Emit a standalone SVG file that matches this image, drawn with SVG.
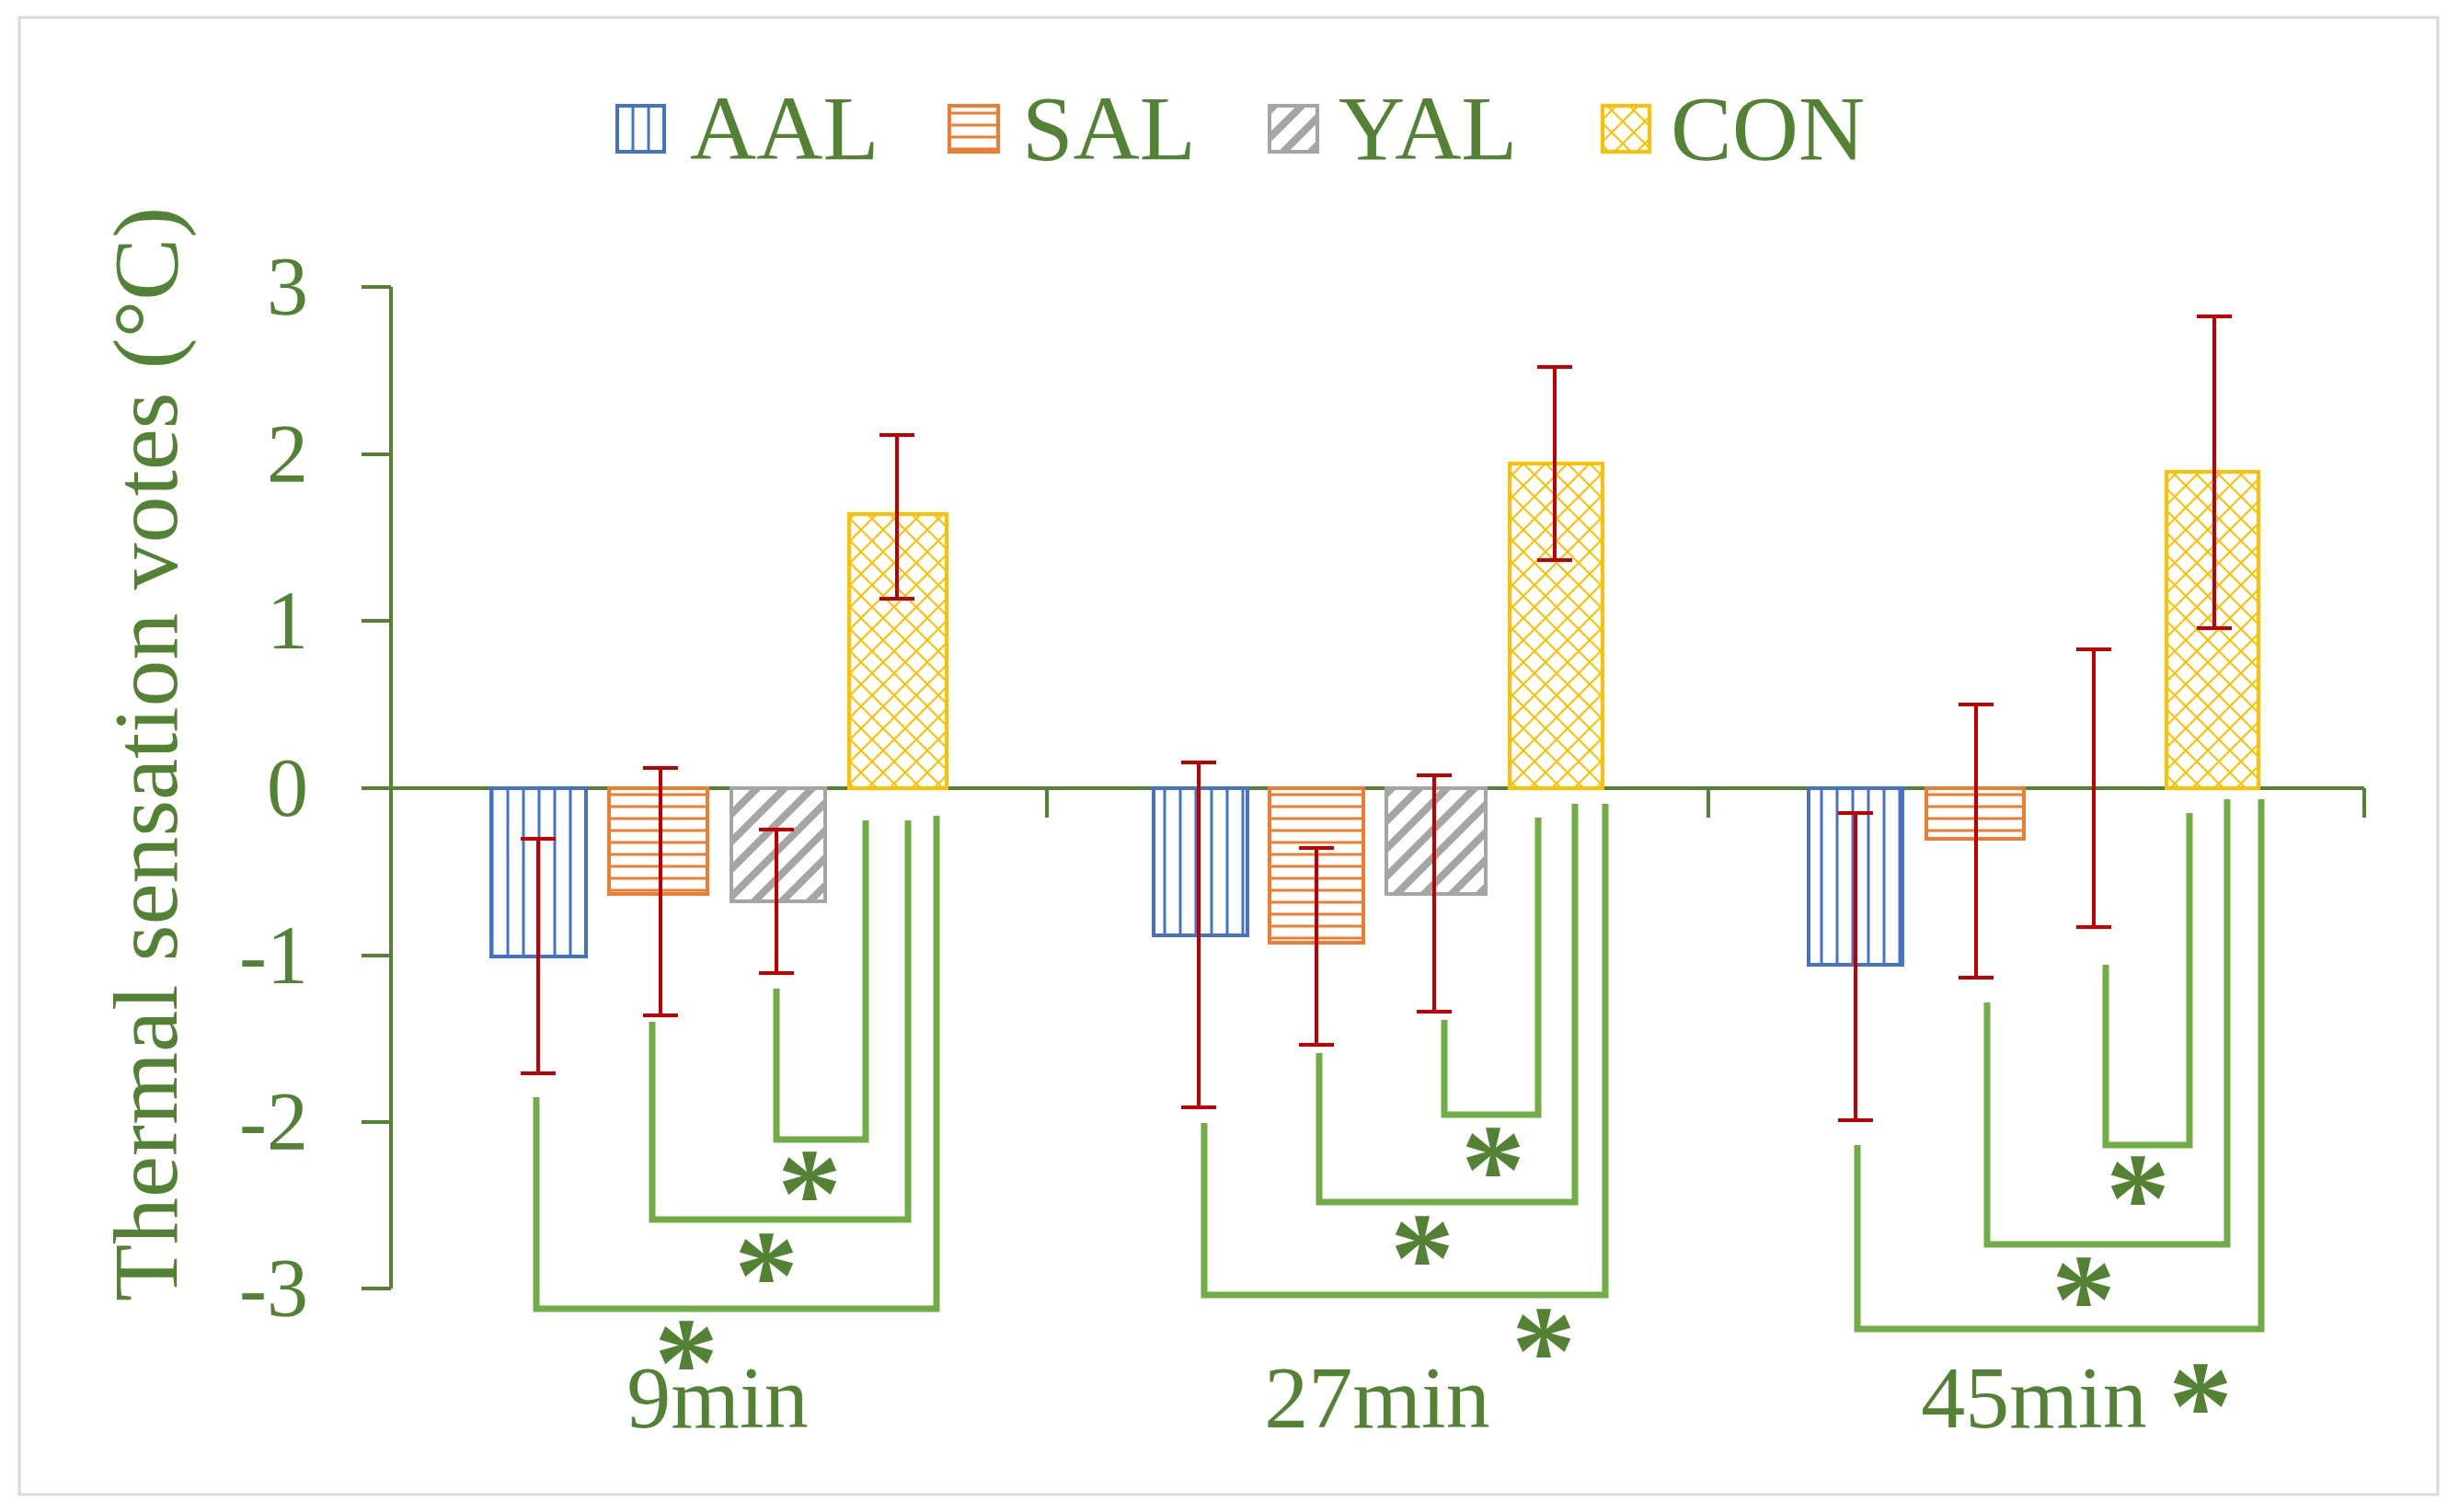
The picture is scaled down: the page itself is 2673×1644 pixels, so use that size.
<svg xmlns="http://www.w3.org/2000/svg" width="2673" height="1644" viewBox="0 0 2673 1644">
<style>
text{font-family:"Liberation Serif","Times New Roman",serif;fill:#548235}
.tk{font-size:90px;text-anchor:end}
.cat{font-size:96px;text-anchor:middle}
.lg{font-size:100px}
.ast{font-size:140px;text-anchor:middle;font-weight:bold}
.ax{stroke:#548235;stroke-width:4;fill:none}
.err{stroke:#C00000;stroke-width:4;fill:none}
.br{stroke:#70AD47;stroke-width:7;fill:none}
.aal{fill:url(#pA);stroke:#4472C4;stroke-width:4}
.sal{fill:url(#pS);stroke:#ED7D31;stroke-width:4}
.yal{fill:url(#pY);stroke:#A5A5A5;stroke-width:4}
.con{fill:url(#pC);stroke:#FFC000;stroke-width:4}
</style>
<defs>
<pattern id="pA" width="17" height="17" patternUnits="userSpaceOnUse"><rect width="17" height="17" fill="#fff"/><line x1="8" y1="0" x2="8" y2="17" stroke="#4472C4" stroke-width="3"/></pattern>
<pattern id="pS" width="13" height="13" patternUnits="userSpaceOnUse"><rect width="13" height="13" fill="#fff"/><line x1="0" y1="6" x2="13" y2="6" stroke="#ED7D31" stroke-width="3"/></pattern>
<pattern id="pY" width="30" height="30" patternUnits="userSpaceOnUse"><rect width="30" height="30" fill="#fff"/><path d="M-5 35L35 -5M-5 5L5 -5M25 35L35 25" stroke="#A5A5A5" stroke-width="8"/></pattern>
<pattern id="pC" width="24" height="24" patternUnits="userSpaceOnUse"><rect width="24" height="24" fill="#fff"/><path d="M0 0L24 24M24 0L0 24" stroke="#FFC000" stroke-width="2"/></pattern>
</defs>
<rect width="2673" height="1644" fill="#fff"/>
<rect x="21" y="19" width="2629" height="1606" fill="none" stroke="#D9D9D9" stroke-width="3"/>
<g id="legend">
<rect x="671" y="115" width="51" height="50" class="aal"/><text x="750" y="173" class="lg">AAL</text>
<rect x="1032" y="115" width="53" height="50" class="sal"/><text x="1111" y="173" class="lg">SAL</text>
<rect x="1380" y="115" width="52" height="50" class="yal"/><text x="1455" y="173" class="lg">YAL</text>
<rect x="1742" y="115" width="51" height="50" class="con"/><text x="1816" y="173" class="lg">CON</text>
</g>
<g id="axes">
<path class="ax" d="M425 312V1401M393 312H425M393 494H425M393 675H425M393 857H425M393 1039H425M393 1220H425M393 1401H425M425 857H2570M1138 857V889M1857 857V889M2570 857V889"/>
<text class="tk" x="335" y="342">3</text><text class="tk" x="335" y="524">2</text><text class="tk" x="335" y="705">1</text><text class="tk" x="335" y="887">0</text><text class="tk" x="335" y="1069">-1</text><text class="tk" x="335" y="1250">-2</text><text class="tk" x="335" y="1431">-3</text>
<text x="0" y="0" transform="translate(192 820) rotate(-90)" font-size="100" text-anchor="middle" textLength="1190" lengthAdjust="spacingAndGlyphs">Thermal sensation votes (°C)</text>
<text class="cat" x="780" y="1552">9min</text><text class="cat" x="1497" y="1552">27min</text><text class="cat" x="2211" y="1552">45min</text>
</g>
<g id="bars">
<rect class="aal" x="534" y="857" width="103" height="183"/>
<rect class="sal" x="662" y="857" width="107" height="115"/>
<rect class="yal" x="795" y="857" width="102" height="123"/>
<rect class="con" x="923" y="559" width="106" height="298"/>
<rect class="aal" x="1254" y="857" width="102" height="160"/>
<rect class="sal" x="1380" y="857" width="102" height="168"/>
<rect class="yal" x="1507" y="857" width="108" height="115"/>
<rect class="con" x="1641" y="504" width="101" height="353"/>
<rect class="aal" x="1966" y="857" width="102" height="192"/>
<rect class="sal" x="2094" y="857" width="106" height="55"/>
<rect class="con" x="2355" y="513" width="100" height="344"/>
</g>
<g id="errorbars">
<path class="err" d="M585 912V1167M566 912H604M566 1167H604M718 835V1104M699 835H737M699 1104H737M844 902V1058M825 902H863M825 1058H863M975 473V651M956 473H994M956 651H994"/>
<path class="err" d="M1303 829V1204M1284 829H1322M1284 1204H1322M1431 922V1136M1412 922H1450M1412 1136H1450M1559 843V1100M1540 843H1578M1540 1100H1578M1690 399V609M1671 399H1709M1671 609H1709"/>
<path class="err" d="M2017 884V1218M1998 884H2036M1998 1218H2036M2148 766V1063M2129 766H2167M2129 1063H2167M2276 706V1008M2257 706H2295M2257 1008H2295M2407 344V683M2388 344H2426M2388 683H2426"/>
</g>
<g id="connectors">
<path class="br" d="M844 1075V1239H941V892"/>
<path class="br" d="M709 1111V1326H987V892"/>
<path class="br" d="M583 1193V1423H1018V887"/>
<path class="br" d="M1570 1109V1212H1672V889"/>
<path class="br" d="M1434 1145V1307H1712V874"/>
<path class="br" d="M1309 1221V1408H1745V874"/>
<path class="br" d="M2289 1049V1245H2380V884"/>
<path class="br" d="M2160 1090V1353H2421V869"/>
<path class="br" d="M2019 1245V1445H2458V869"/>
</g>
<g id="stars">
<text class="ast" x="880" y="1345">*</text><text class="ast" x="833" y="1434">*</text><text class="ast" x="746" y="1529">*</text>
<text class="ast" x="1623" y="1319">*</text><text class="ast" x="1546" y="1415">*</text><text class="ast" x="1678" y="1516">*</text>
<text class="ast" x="2324" y="1350">*</text><text class="ast" x="2265" y="1460">*</text><text class="ast" x="2392" y="1576">*</text>
</g>
</svg>
